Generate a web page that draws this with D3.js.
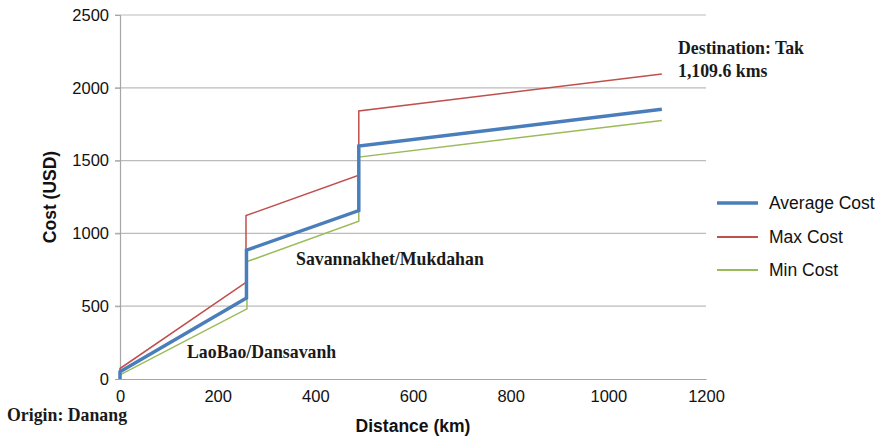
<!DOCTYPE html>
<html>
<head>
<meta charset="utf-8">
<script src="https://cdn.jsdelivr.net/npm/d3@7"></script>
<style>
  html, body { margin: 0; padding: 0; background: #fff; }
  svg { display: block; }
</style>
</head>
<body>
<svg id="chart" width="882" height="438"></svg>
<script>
// Cumulative transport cost along the Danang – Tak corridor
const distAvg  = [0, 0, 259, 259, 489, 489, 1109.6];
const costAvg  = [0, 50, 557, 885, 1157, 1600, 1852];
const distMax  = [0, 0, 258, 258, 489, 489, 1109.6];
const costMax  = [0, 72, 663, 1122, 1400, 1841, 2095];
const distMin  = [0, 0, 260, 260, 489, 489, 1109.6];
const costMin  = [0, 28, 482, 806, 1083, 1524, 1776];

const seriesNames  = ["Average Cost", "Max Cost", "Min Cost"];
const seriesColors = ["#4a7ebb", "#c0504d", "#9bbb59"];
const seriesWidths = [3.5, 1.5, 1.5];

const xTicks = [0, 200, 400, 600, 800, 1000, 1200];
const yTicks = [0, 500, 1000, 1500, 2000, 2500];

const svg = d3.select("#chart");
const plotLeft = 120, plotRight = 706, plotTop = 15, plotBottom = 379;
const sans = "Liberation Sans, Arial, sans-serif";
const serif = "Liberation Serif, Times New Roman, serif";

const x = d3.scaleLinear().domain([0, 1200]).range([plotLeft, plotRight]);
const y = d3.scaleLinear().domain([0, 2500]).range([plotBottom, plotTop]);

// horizontal gridlines
svg.append("g")
  .selectAll("line")
  .data(yTicks.filter(d => d > 0))
  .join("line")
  .attr("x1", plotLeft - 5).attr("x2", plotRight)
  .attr("y1", d => y(d)).attr("y2", d => y(d))
  .attr("stroke", "#bcbcbc").attr("stroke-width", 1.2);

// y axis
const yAxis = svg.append("g")
  .attr("transform", `translate(${plotLeft},0)`)
  .call(d3.axisLeft(y).tickValues(yTicks).tickSize(5).tickFormat(d3.format("d")));
yAxis.select(".domain").attr("stroke", "#a6a6a6").attr("stroke-width", 1.2);
yAxis.selectAll(".tick line").attr("stroke", "#a6a6a6");
yAxis.selectAll(".tick text")
  .attr("x", -11)
  .attr("font-family", sans)
  .attr("font-size", "16.5px").attr("fill", "#111");

// x axis
const xAxis = svg.append("g")
  .attr("transform", `translate(0,${plotBottom})`)
  .call(d3.axisBottom(x).tickValues(xTicks).tickSize(0).tickFormat(d3.format("d")));
xAxis.select(".domain").attr("stroke", "#a6a6a6").attr("stroke-width", 1.2);
xAxis.selectAll(".tick text")
  .attr("y", 11)
  .attr("font-family", sans)
  .attr("font-size", "16.5px").attr("fill", "#111");

// axis titles
svg.append("text")
  .attr("x", 413).attr("y", 432)
  .attr("text-anchor", "middle")
  .attr("font-family", sans)
  .attr("font-weight", "bold").attr("font-size", "17.5px").attr("fill", "#111")
  .text("Distance (km)");
svg.append("text")
  .attr("transform", "translate(56,197) rotate(-90)")
  .attr("text-anchor", "middle")
  .attr("font-family", sans)
  .attr("font-weight", "bold").attr("font-size", "17.5px").attr("fill", "#111")
  .text("Cost (USD)");

// cost lines
const series = [
  d3.zip(distAvg, costAvg),
  d3.zip(distMax, costMax),
  d3.zip(distMin, costMin)
];
const line = d3.line().x(d => x(d[0])).y(d => y(d[1]));
// draw thin lines first, the average on top
[1, 2, 0].forEach(i => {
  svg.append("path")
    .datum(series[i])
    .attr("d", line)
    .attr("fill", "none")
    .attr("stroke", seriesColors[i])
    .attr("stroke-width", seriesWidths[i])
    .attr("stroke-linejoin", "miter");
});

// legend
const legend = svg.append("g");
const legendY = [203, 237, 270];
seriesNames.forEach((name, i) => {
  legend.append("line")
    .attr("x1", 717).attr("x2", 758)
    .attr("y1", legendY[i]).attr("y2", legendY[i])
    .attr("stroke", seriesColors[i]).attr("stroke-width", i === 0 ? 3.5 : 2);
  legend.append("text")
    .attr("x", 769).attr("y", legendY[i]).attr("dy", "0.35em")
    .attr("font-family", sans)
    .attr("font-size", "17.5px").attr("fill", "#111")
    .text(name);
});

// place annotations
const notes = [
  { text: "Destination: Tak", x: 678, y: 54 },
  { text: "1,109.6 kms", x: 678, y: 77 },
  { text: "Savannakhet/Mukdahan", x: 296, y: 265 },
  { text: "LaoBao/Dansavanh", x: 187, y: 358 },
  { text: "Origin: Danang", x: 7, y: 421 }
];
svg.append("g").selectAll("text")
  .data(notes)
  .join("text")
  .attr("x", d => d.x).attr("y", d => d.y)
  .attr("font-family", serif)
  .attr("font-weight", "bold").attr("font-size", "17.8px").attr("fill", "#1a1a1a")
  .text(d => d.text);
</script>
</body>
</html>
